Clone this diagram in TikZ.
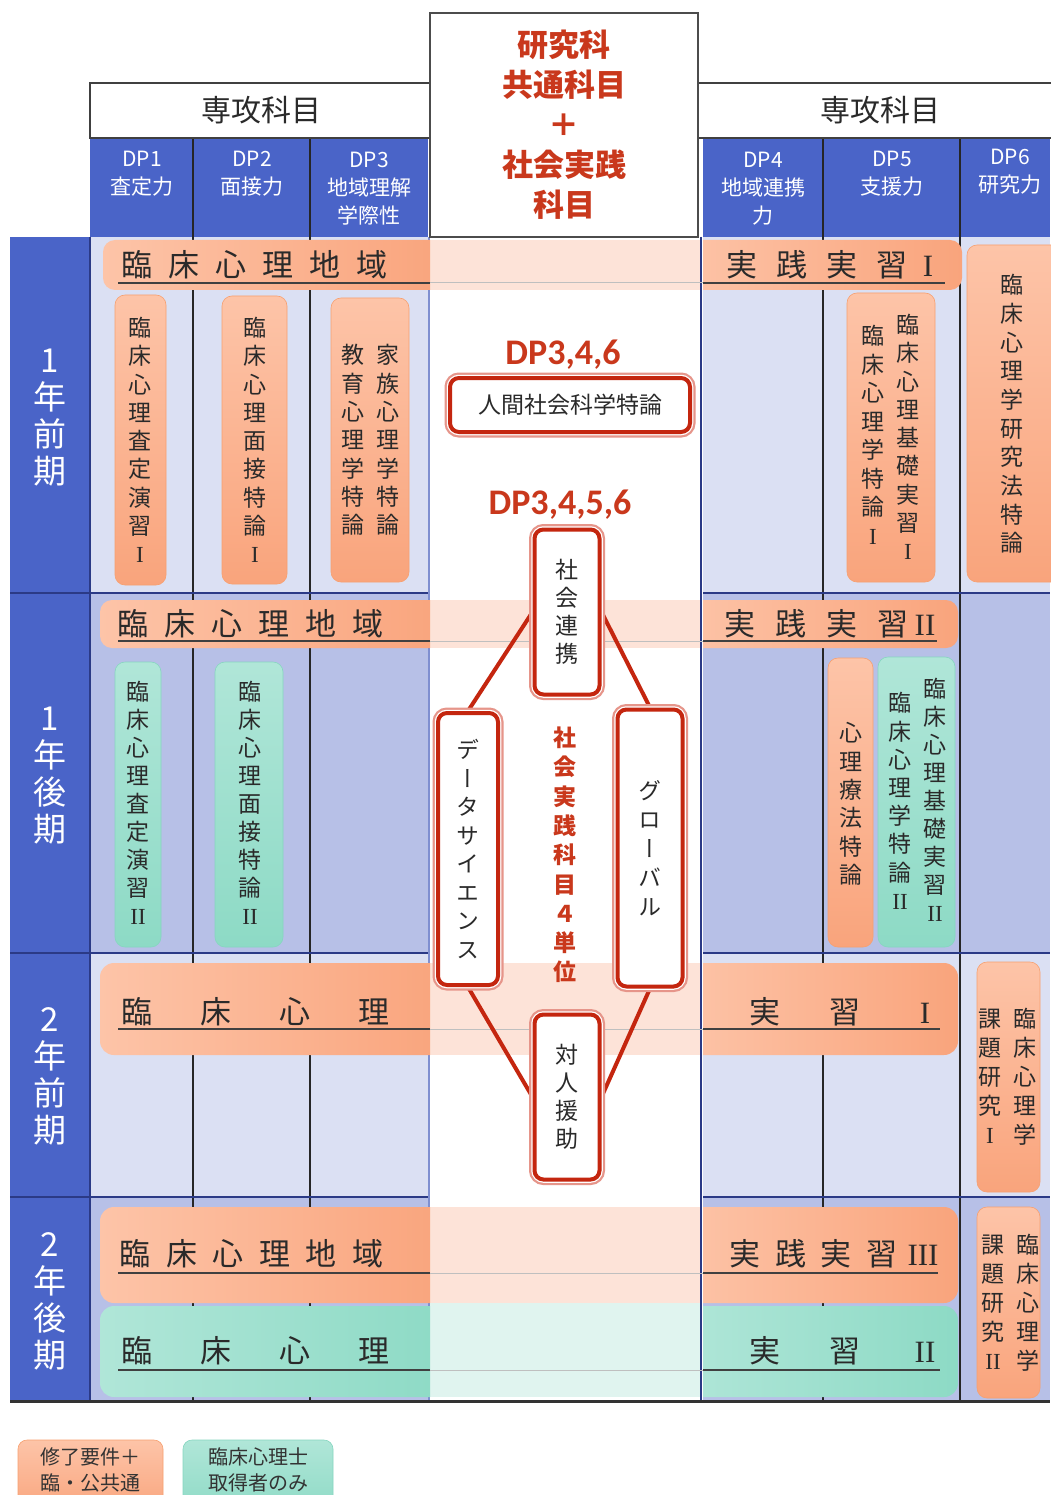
\documentclass[tikz,border=0pt]{standalone}
\usepackage{fontspec}
\setmainfont{Noto Sans CJK JP}
\newfontfamily\calfont{Carlito}
\newfontfamily\serfont{Liberation Serif}
\newcommand\RI{{\serfont I}}
\newcommand\RII{{\serfont II}}
\newcommand\RIII{{\serfont III}}
\definecolor{blueH}{HTML}{4A64C8}
\definecolor{lav1}{HTML}{DBE0F3}
\definecolor{lav2}{HTML}{B7C0E7}
\definecolor{orL}{HTML}{FDC4A8}
\definecolor{orR}{HTML}{F9A47C}
\definecolor{orE}{HTML}{F7A070}
\definecolor{grL}{HTML}{B0E6D8}
\definecolor{grD}{HTML}{8DDAC5}
\definecolor{grE}{HTML}{86D6C0}
\definecolor{pinkC}{HTML}{FDE3D8}
\definecolor{grnC}{HTML}{E0F4EF}
\definecolor{redT}{HTML}{C9381C}
\definecolor{redB}{HTML}{C4260F}
\definecolor{redH}{HTML}{E6958A}
\definecolor{rowL}{HTML}{2B3A86}
\definecolor{cedge}{HTML}{7F8FD0}
\definecolor{txt}{HTML}{2A2A2A}
\makeatletter
\newcommand\vst[2][28pt]{\vbox{\baselineskip=#1\relax\lineskiplimit=-1000pt\lineskip=0pt\relax
  \@tfor\vch:=#2\do{\hbox to 1.1em{\hss\vch\hss}}}}
\makeatother
\pgfdeclarelayer{fg}
\pgfsetlayers{main,fg}
\tikzset{
  pillO/.style={rounded corners=10pt, top color=orL, bottom color=orR, draw=orE, line width=0.6pt},
  pillG/.style={rounded corners=10pt, top color=grL, bottom color=grD, draw=grE, line width=0.6pt},
  barO/.style={left color=orL, right color=orR},
  barG/.style={left color=grL, right color=grD},
  divline/.style={line width=2pt, black!85},
  rowline/.style={line width=2.5pt, rowL},
  uline/.style={line width=1.2pt, black!75},
  ulineC/.style={line width=1pt, black!25},
  hdr/.style={line width=2.5pt, draw=black!75, fill=white},
  vtxt/.style={inner sep=0pt, text=txt, font=\fontsize{23}{28}\selectfont},
  dptxt/.style={inner sep=0pt, text=white, align=center, font=\fontsize{21}{28}\selectfont},
  rowtxt/.style={inner sep=0pt, text=white, font=\fontsize{33}{37}\selectfont},
  bartxt/.style={inner sep=0pt, text=txt, anchor=west, font=\fontsize{31}{36}\selectfont},
  numtxt/.style={inner sep=0pt, text=txt, font=\fontsize{31}{36}\selectfont},
  redbox/.style={draw=redB, line width=4pt, fill=white, rounded corners=9pt, inner sep=0pt,
     preaction={draw=redH, line width=11pt}, preaction={draw=white, line width=6.5pt},
     text=txt, font=\fontsize{23}{28}\selectfont},
  redline/.style={draw=redB, line width=4pt},
  dptag/.style={inner sep=0pt, text=redT, font=\fontsize{36}{40}\calfont\bfseries},
  legtxt/.style={inner sep=0pt, text=black!80, align=center, font=\fontsize{20}{26}\selectfont}
}
\begin{document}
\begin{tikzpicture}[x=1pt,y=-1pt]
\useasboundingbox (0,0) rectangle (1050,1495);
\fill[white] (0,0) rectangle (1050,1495);
% row backgrounds
\fill[lav1] (90,237) rectangle (428,593);
\fill[lav2] (90,593) rectangle (428,953);
\fill[lav1] (90,953) rectangle (428,1197);
\fill[lav2] (90,1197) rectangle (428,1400);
\fill[lav1] (703,237) rectangle (1050,593);
\fill[lav2] (703,593) rectangle (1050,953);
\fill[lav1] (703,953) rectangle (1050,1197);
\fill[lav2] (703,1197) rectangle (1050,1400);
% centre column
\fill[white] (430,237) rectangle (701,1400);
\fill[pinkC] (430,240) rectangle (701,290);
\fill[pinkC] (430,600) rectangle (701,648);
\fill[pinkC] (430,963) rectangle (701,1055);
\fill[pinkC] (430,1207) rectangle (701,1303);
\fill[grnC] (430,1303) rectangle (701,1397);
% column dividers
\foreach \cx in {193,310,823,960} \draw[divline] (\cx,138) -- (\cx,1400);
% row dividers
\foreach \ry in {593,953,1197} {
  \draw[rowline] (10,\ry) -- (428,\ry);
  \draw[rowline] (703,\ry) -- (1050,\ry);
}
% left year column
\fill[blueH] (10,237) rectangle (90,1402);
\foreach \ry in {593,953,1197} \draw[rowline] (10,\ry) -- (90,\ry);
\draw[line width=3pt, black!80] (10,1401) -- (1050,1401);
\draw[line width=2pt, cedge] (429,237) -- (429,1400);
\draw[line width=2.5pt, rowL] (701,237) -- (701,1400);
\draw[line width=1.5pt, rowL] (90,237) -- (90,1400);
% headers
\fill[blueH] (90,138) rectangle (428,237);
\fill[blueH] (703,138) rectangle (1050,237);
\foreach \cx in {193,310,823,960} \draw[divline] (\cx,138) -- (\cx,237);
\draw[hdr] (90,83) rectangle (430,138);
\draw[hdr] (698,83) rectangle (1055,138);
\node[inner sep=0pt, text=txt, font=\fontsize{30}{34}\selectfont] (hL) at (261,110) {専攻科目};
\node[inner sep=0pt, text=txt, font=\fontsize{30}{34}\selectfont] (hR) at (880,110) {専攻科目};
\draw[line width=2.5pt, draw=black!70, fill=white] (430,13) rectangle (698,237);
\node[inner sep=0pt, text=redT, align=center, font=\fontsize{31}{40}\selectfont\bfseries] (title) at (564,125) {研究科\\共通科目\\＋\\社会実践\\科目};
\node[dptxt] (dp1) at (142,174) {DP1\\査定力};
\node[dptxt] (dp2) at (252,174) {DP2\\面接力};
\node[dptxt] (dp3) at (369,189) {DP3\\地域理解\\学際性};
\node[dptxt] (dp4) at (763,189) {DP4\\地域連携\\力};
\node[dptxt] (dp5) at (892,174) {DP5\\支援力};
\node[dptxt] (dp6) at (1010,172) {DP6\\研究力};
% year labels
\node[rowtxt] (y1a) at (50,418) {\vst[37pt]{1年前期}};
\node[rowtxt] (y1b) at (50,776) {\vst[37pt]{1年後期}};
\node[rowtxt] (y2a) at (50,1076) {\vst[37pt]{2年前期}};
\node[rowtxt] (y2b) at (50,1301) {\vst[37pt]{2年後期}};
% horizontal bars
\begin{scope}
\clip (0,0) rectangle (430,1495);
\path[barO, rounded corners=12pt] (103,240) rectangle (450,290);
\path[barO, rounded corners=12pt] (100,600) rectangle (450,648);
\path[barO, rounded corners=14pt] (100,963) rectangle (450,1055);
\path[barO, rounded corners=14pt] (100,1207) rectangle (450,1303);
\path[barG, rounded corners=14pt] (100,1306) rectangle (450,1397);
\end{scope}
\begin{scope}
\clip (703,0) rectangle (1050,1495);
\path[barO, rounded corners=12pt] (680,240) rectangle (962,290);
\path[barO, rounded corners=12pt] (680,600) rectangle (958,648);
\path[barO, rounded corners=14pt] (680,963) rectangle (958,1055);
\path[barO, rounded corners=14pt] (680,1207) rectangle (958,1303);
\path[barG, rounded corners=14pt] (680,1306) rectangle (958,1397);
\end{scope}
% underlines
\foreach \uy/\ue in {283/945,641/937,1029/940,1273/938,1370/940} {
  \draw[uline] (118,\uy) -- (430,\uy);
  \draw[ulineC] (430,\uy) -- (703,\uy);
  \draw[uline] (703,\uy) -- (\ue,\uy);
}
% bar labels
\node[bartxt] (b1L) at (121.5,265) {臨\hspace{16pt}床\hspace{16pt}心\hspace{16pt}理\hspace{16pt}地\hspace{16pt}域};
\node[bartxt] (b1R) at (726.5,265) {実\hspace{19pt}践\hspace{19pt}実\hspace{19pt}習};
\node[numtxt] (b1Rn) at (928,266) {\RI};
\node[bartxt] (b2L) at (117.5,624) {臨\hspace{16pt}床\hspace{16pt}心\hspace{16pt}理\hspace{16pt}地\hspace{16pt}域};
\node[bartxt] (b2R) at (724.5,624) {実\hspace{20pt}践\hspace{20pt}実\hspace{20pt}習};
\node[numtxt] (b2Rn) at (925,625) {\RII};
\node[bartxt] (b3L) at (121.5,1012) {臨\hspace{48pt}床\hspace{48pt}心\hspace{48pt}理};
\node[bartxt] (b3R) at (749.5,1012) {実\hspace{49pt}習};
\node[numtxt] (b3Rn) at (925,1013) {\RI};
\node[bartxt] (b4L) at (119.5,1254) {臨\hspace{15.5pt}床\hspace{15.5pt}心\hspace{15.5pt}理\hspace{15.5pt}地\hspace{15.5pt}域};
\node[bartxt] (b4R) at (729.5,1254) {実\hspace{14.5pt}践\hspace{14.5pt}実\hspace{14.5pt}習};
\node[numtxt] (b4Rn) at (923,1255) {\RIII};
\node[bartxt] (b5L) at (121.5,1351) {臨\hspace{48pt}床\hspace{48pt}心\hspace{48pt}理};
\node[bartxt] (b5R) at (749.5,1351) {実\hspace{49pt}習};
\node[numtxt] (b5Rn) at (925,1352) {\RII};
% pills row 1
\path[pillO] (115,295) rectangle (166,585);
\path[pillO] (222,296) rectangle (287,584);
\path[pillO] (331,298) rectangle (409,582);
\path[pillO] (847,293) rectangle (935,582);
\path[pillO] (967,245) rectangle (1062,582);
\node[vtxt] (p11) at (140,440) {\vst[28.3pt]{臨床心理査定演習\RI}};
\node[vtxt] (p12) at (255,440) {\vst[28.3pt]{臨床心理面接特論\RI}};
\node[vtxt] (p13a) at (388,440) {\vst[28.3pt]{家族心理学特論}};
\node[vtxt] (p13b) at (353,440) {\vst[28.3pt]{教育心理学特論}};
\node[vtxt] (p14a) at (908,437) {\vst[28.3pt]{臨床心理基礎実習\RI}};
\node[vtxt] (p14b) at (873,435) {\vst[28.5pt]{臨床心理学特論\RI}};
\node[vtxt] (p15) at (1012,414) {\vst[28.7pt]{臨床心理学研究法特論}};
% pills row 2
\path[pillG] (115,662) rectangle (161,947);
\path[pillG] (215,662) rectangle (283,947);
\path[pillO] (828,658) rectangle (873,947);
\path[pillG] (878,657) rectangle (955,947);
\node[vtxt] (p21) at (138,803) {\vst[28pt]{臨床心理査定演習\RII}};
\node[vtxt] (p22) at (250,803) {\vst[28pt]{臨床心理面接特論\RII}};
\node[vtxt] (p23) at (851,804) {\vst[28.4pt]{心理療法特論}};
\node[vtxt] (p24a) at (935,800) {\vst[28pt]{臨床心理基礎実習\RII}};
\node[vtxt] (p24b) at (900,801) {\vst[28.2pt]{臨床心理学特論\RII}};
% pills rows 3 and 4
\path[pillO] (977,962) rectangle (1040,1192);
\path[pillO] (977,1207) rectangle (1040,1398);
\node[vtxt] (p31a) at (1025,1077) {\vst[29pt]{臨床心理学}};
\node[vtxt] (p31b) at (990,1076) {\vst[29pt]{課題研究\RI}};
\node[vtxt] (p41a) at (1028,1303) {\vst[29pt]{臨床心理学}};
\node[vtxt] (p41b) at (993,1302) {\vst[29pt]{課題研究\RII}};
% red network
\node[dptag] (dp346) at (563,355) {DP3,4,6};
\node[dptag] (dp3456) at (560,505) {DP3,4,5,6};
\node[inner sep=0pt, text=redT, font=\fontsize{23}{28}\selectfont\bfseries] (sj4) at (565,855) {\vst[29.3pt]{社会実践科目４単位}};
\begin{pgfonlayer}{fg}
\node[redbox, minimum width=240pt, minimum height=54pt] (jinkan) at (570,405) {人間社会科学特論};
\node[redbox, minimum width=65pt, minimum height=165pt] (shakai) at (567,612) {\vst{社会連携}};
\node[redbox, minimum width=60pt, minimum height=272pt] (data) at (468,849) {\addfontfeature{RawFeature=+vert}\vst[28.5pt]{データサイエンス}};
\node[redbox, minimum width=65pt, minimum height=277pt] (global) at (650,848) {\addfontfeature{RawFeature=+vert}\vst[29pt]{グローバル}};
\node[redbox, minimum width=65pt, minimum height=165pt] (taijin) at (567,1097) {\vst{対人援助}};
\end{pgfonlayer}
\draw[redline] (shakai.west) -- (data.north);
\draw[redline] (shakai.east) -- (global.north);
\draw[redline] (data.south) -- (taijin.west);
\draw[redline] (global.south) -- (taijin.east);
% legend
\path[pillO, rounded corners=9pt] (18,1440) rectangle (163,1515);
\path[pillG, rounded corners=9pt] (183,1440) rectangle (333,1515);
\node[legtxt] (leg1) at (90,1470) {修了要件＋\\臨・公共通};
\node[legtxt] (leg2) at (258,1470) {臨床心理士\\取得者のみ};
\end{tikzpicture}
\end{document}
